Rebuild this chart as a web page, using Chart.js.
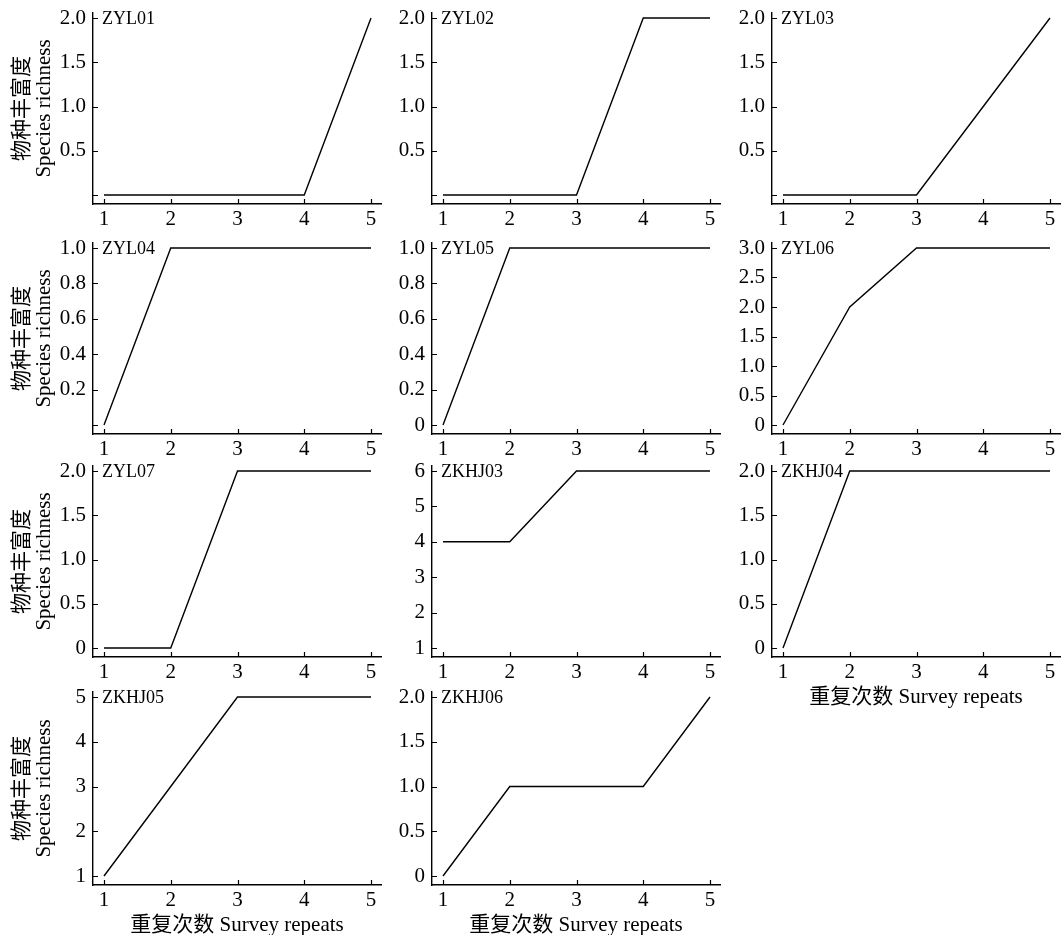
<!DOCTYPE html>
<html><head><meta charset="utf-8">
<script src="https://cdn.jsdelivr.net/npm/chart.js@4.4.0/dist/chart.umd.min.js"></script>
<style>
html,body{margin:0;padding:0;background:#fff;overflow:hidden;width:1063px;height:935px;position:relative}
canvas{position:absolute}
</style></head><body>
<script>
// ---------- data ----------
const repeats = [1, 2, 3, 4, 5];
const xTickLabels = ['1', '2', '3', '4', '5'];
const yTitleLines = ['物种丰富度', 'Species richness'];
const xTitleText = '重复次数 Survey repeats';

const siteNames = ['ZYL01','ZYL02','ZYL03','ZYL04','ZYL05','ZYL06','ZYL07','ZKHJ03','ZKHJ04','ZKHJ05','ZKHJ06'];

const ZYL01 = [0, 0, 0, 0, 2];
const ZYL02 = [0, 0, 0, 2, 2];
const ZYL03 = [0, 0, 0, 1, 2];
const ZYL04 = [0, 1, 1, 1, 1];
const ZYL05 = [0, 1, 1, 1, 1];
const ZYL06 = [0, 2, 3, 3, 3];
const ZYL07 = [0, 0, 2, 2, 2];
const ZKHJ03 = [4, 4, 6, 6, 6];
const ZKHJ04 = [0, 2, 2, 2, 2];
const ZKHJ05 = [1, 3, 5, 5, 5];
const ZKHJ06 = [0, 1, 1, 1, 2];

const ticksHalfTo2 = [0, 0.5, 1.0, 1.5, 2.0];
const ticksTenthTo1 = [0, 0.2, 0.4, 0.6, 0.8, 1.0];
const ticksHalfTo3 = [0, 0.5, 1.0, 1.5, 2.0, 2.5, 3.0];
const ticks1to6 = [1, 2, 3, 4, 5, 6];
const ticks1to5 = [1, 2, 3, 4, 5];

// ---------- layout ----------
const FONT = "'Liberation Serif','Times New Roman','Noto Sans CJK SC',serif";
const colAxisX = [93, 432, 772];
const rowTopTick = [18, 248, 471, 697];
const rowAxisY = [204, 434, 657, 885];
const PLOT_W = 288;
const X_LEFT_GAP = 11, X_RIGHT_GAP = 10;
const Y_TOP_GAP = 5, Y_BOTTOM_GAP = 9;

Chart.defaults.color = '#000';
Chart.defaults.font.family = FONT;

const inwardTicks = {
  id: 'inwardTicks',
  afterDraw(chart, args, opts) {
    const ctx = chart.ctx, xs = chart.scales.x, ys = chart.scales.y, a = chart.chartArea;
    ctx.save();
    ctx.strokeStyle = '#000';
    ctx.lineWidth = 1.2;
    ctx.beginPath();
    xs.ticks.forEach(t => {
      const px = Math.round(xs.getPixelForValue(t.value)) + 0.5;
      ctx.moveTo(px, a.bottom); ctx.lineTo(px, a.bottom - 5);
    });
    ys.ticks.forEach(t => {
      const py = Math.round(ys.getPixelForValue(t.value)) + 0.5;
      ctx.moveTo(a.left, py); ctx.lineTo(a.left + 5, py);
    });
    ctx.stroke();
    ctx.font = '18px ' + FONT;
    ctx.fillStyle = '#000';
    ctx.textBaseline = 'middle';
    ctx.textAlign = 'left';
    const topVal = ys.ticks[ys.ticks.length - 1].value;
    ctx.fillText(opts.name, a.left + 9, ys.getPixelForValue(topVal) + 1);
    ctx.restore();
  }
};

function makePanel(p) {
  const axisX = colAxisX[p.col], axisY = rowAxisY[p.row], topTick = rowTopTick[p.row];
  const YW = p.col === 0 ? axisX : 60;
  const PT = 14, PR = 6;
  const XH = p.xTitle ? 56 : 30;
  const plotTop = topTick - Y_TOP_GAP;
  const H = axisY - plotTop;
  const W = YW + PLOT_W + PR;
  const HT = PT + H + XH;
  const cv = document.createElement('canvas');
  cv.width = W; cv.height = HT;
  cv.style.left = (axisX - YW) + 'px';
  cv.style.top = (plotTop - PT) + 'px';
  cv.style.width = W + 'px';
  cv.style.height = HT + 'px';
  document.body.appendChild(cv);

  const tMin = p.ticks[0], tMax = p.ticks[p.ticks.length - 1];
  const ppu = (axisY - Y_BOTTOM_GAP - topTick) / (tMax - tMin);
  const yMin = tMin - Y_BOTTOM_GAP / ppu, yMax = tMax + Y_TOP_GAP / ppu;
  const xppu = (PLOT_W - X_LEFT_GAP - X_RIGHT_GAP) / 4;
  const xMin = 1 - X_LEFT_GAP / xppu, xMax = 5 + X_RIGHT_GAP / xppu;

  const fmt = v => {
    if (v === 0) return p.hideZero ? '' : '0';
    return v.toFixed(p.decimals);
  };

  new Chart(cv, {
    type: 'line',
    data: {
      datasets: [{
        data: repeats.map((x, i) => ({ x: x, y: p.data[i] })),
        borderColor: '#000', borderWidth: 1.4, pointRadius: 0, fill: false, tension: 0, clip: false
      }]
    },
    plugins: [inwardTicks],
    options: {
      responsive: false, animation: false, devicePixelRatio: 1,
      layout: { padding: { top: PT, right: PR, left: 0, bottom: 0 } },
      plugins: { legend: { display: false }, tooltip: { enabled: false }, inwardTicks: { name: p.name } },
      scales: {
        x: {
          type: 'linear', min: xMin, max: xMax,
          grid: { display: false, drawTicks: false, drawOnChartArea: false },
          border: { display: true, color: '#000', width: 1.4 },
          afterBuildTicks: s => { s.ticks = repeats.map(v => ({ value: v })); },
          afterFit: s => { s.height = XH; s.paddingLeft = 0; s.paddingRight = 0; },
          ticks: {
            font: { family: FONT, size: 21 }, color: '#000', padding: 3,
            maxRotation: 0, autoSkip: false,
            callback: (v) => xTickLabels[repeats.indexOf(v)]
          },
          title: {
            display: !!p.xTitle, text: xTitleText, color: '#000',
            font: { family: FONT, size: 21, lineHeight: 1.05 },
            padding: { top: 0, bottom: 4 }
          }
        },
        y: {
          type: 'linear', min: yMin, max: yMax,
          grid: { display: false, drawTicks: false, drawOnChartArea: false },
          border: { display: true, color: '#000', width: 1.4 },
          afterBuildTicks: s => { s.ticks = p.ticks.map(v => ({ value: v })); },
          afterFit: s => { s.width = YW; s.paddingTop = 0; s.paddingBottom = 0; },
          ticks: {
            font: { family: FONT, size: 21 }, color: '#000', padding: 7,
            autoSkip: false, callback: fmt
          },
          title: {
            display: !!p.yTitle, text: yTitleLines, color: '#000',
            font: { family: FONT, size: 21, lineHeight: 1.05 },
            padding: { top: 11, bottom: 0 }
          }
        }
      }
    }
  });
}

const panels = [
  { name: siteNames[0], data: ZYL01, ticks: ticksHalfTo2, decimals: 1, hideZero: true, col: 0, row: 0, yTitle: true },
  { name: siteNames[1], data: ZYL02, ticks: ticksHalfTo2, decimals: 1, hideZero: true, col: 1, row: 0 },
  { name: siteNames[2], data: ZYL03, ticks: ticksHalfTo2, decimals: 1, hideZero: true, col: 2, row: 0 },
  { name: siteNames[3], data: ZYL04, ticks: ticksTenthTo1, decimals: 1, hideZero: true, col: 0, row: 1, yTitle: true },
  { name: siteNames[4], data: ZYL05, ticks: ticksTenthTo1, decimals: 1, hideZero: false, col: 1, row: 1 },
  { name: siteNames[5], data: ZYL06, ticks: ticksHalfTo3, decimals: 1, hideZero: false, col: 2, row: 1 },
  { name: siteNames[6], data: ZYL07, ticks: ticksHalfTo2, decimals: 1, hideZero: false, col: 0, row: 2, yTitle: true },
  { name: siteNames[7], data: ZKHJ03, ticks: ticks1to6, decimals: 0, hideZero: false, col: 1, row: 2 },
  { name: siteNames[8], data: ZKHJ04, ticks: ticksHalfTo2, decimals: 1, hideZero: false, col: 2, row: 2, xTitle: true },
  { name: siteNames[9], data: ZKHJ05, ticks: ticks1to5, decimals: 0, hideZero: false, col: 0, row: 3, yTitle: true, xTitle: true },
  { name: siteNames[10], data: ZKHJ06, ticks: ticksHalfTo2, decimals: 1, hideZero: false, col: 1, row: 3, xTitle: true }
];
panels.forEach(makePanel);
</script>
</body></html>
